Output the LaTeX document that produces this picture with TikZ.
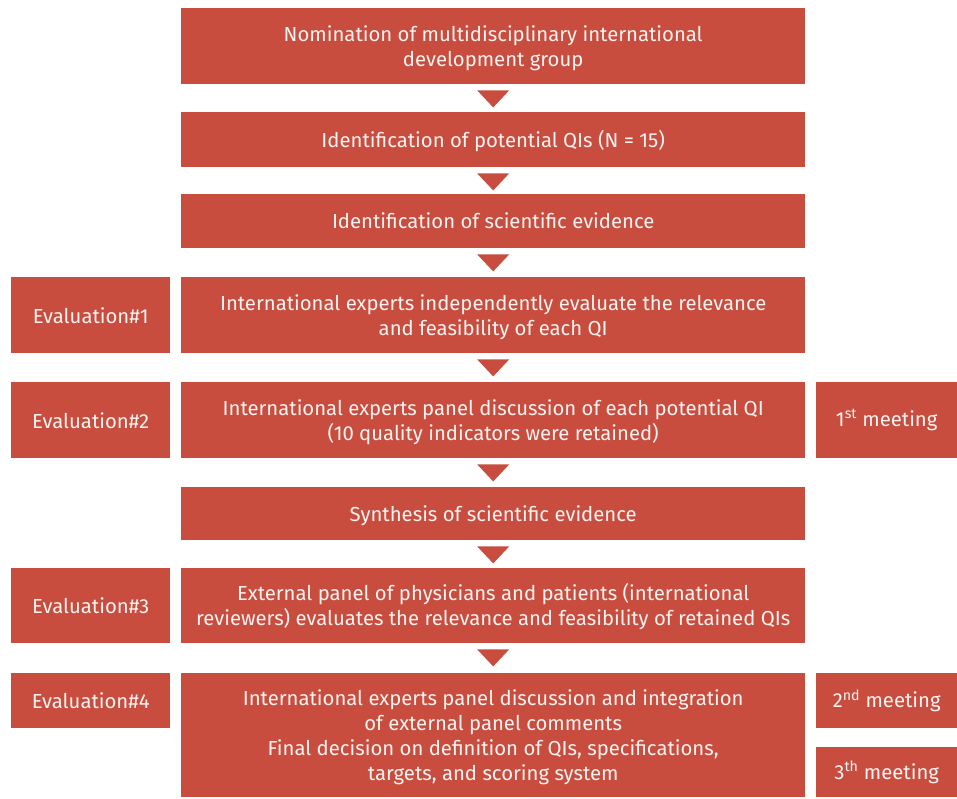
\documentclass[tikz,border=0pt]{standalone}
\usepackage{fontspec}
\setmainfont{Fira Sans}
\definecolor{boxred}{HTML}{C94D3E}
\definecolor{txt}{HTML}{FBF3F1}
\newcommand{\shtxt}[1]{\raisebox{-2.5pt}[\height][\depth]{\begin{tabular}{@{}c@{}}#1\end{tabular}}}
\begin{document}
\begin{tikzpicture}[x=1pt,y=-1pt,
  rbox/.style={fill=boxred,draw=none,inner sep=0pt,align=center,text=txt,
    font=\fontsize{20.3}{25}\selectfont},
  tri/.style={fill=boxred,draw=none}]
\useasboundingbox (0,0) rectangle (957,798);
% main boxes
\newcommand{\mainbx}[4]{% name, y1, y2, text
  \node[rbox,minimum width=624pt,minimum height={#3-#2},anchor=north west] (#1) at (181,#2) {\shtxt{#4}};}
\mainbx{b1}{8}{84}{Nomination of multidisciplinary international\\development group}
\mainbx{b2}{112}{167}{Identification of potential QIs (N = 15)}
\mainbx{b3}{194}{248}{Identification of scientific evidence}
\mainbx{b4}{277}{353}{International experts independently evaluate the relevance\\and feasibility of each QI}
\mainbx{b5}{382}{458}{International experts panel discussion of each potential QI\\(10 quality indicators were retained)}
\mainbx{b6}{487}{540}{Synthesis of scientific evidence}
\mainbx{b7}{568}{643}{External panel of physicians and patients (international\\reviewers) evaluates the relevance and feasibility of retained QIs}
\mainbx{b8}{673}{797}{International experts panel discussion and integration\\of external panel comments\\Final decision on definition of QIs, specifications,\\targets, and scoring system}
% side boxes
\newcommand{\leftbx}[4]{\node[rbox,minimum width=159pt,minimum height={#3-#2},anchor=north west] (#1) at (11,#2) {#4};}
\newcommand{\rightbx}[4]{\node[rbox,minimum width=141pt,minimum height={#3-#2},anchor=north west] (#1) at (816,#2) {#4};}
\leftbx{e1}{277}{353}{Evaluation\#1}
\leftbx{e2}{382}{458}{Evaluation\#2}
\leftbx{e3}{568}{643}{Evaluation\#3}
\leftbx{e4}{673}{728}{Evaluation\#4}
\rightbx{m1}{382}{458}{1\textsuperscript{st} meeting}
\rightbx{m2}{673}{728}{2\textsuperscript{nd} meeting}
\rightbx{m3}{747}{797}{3\textsuperscript{th} meeting}
% arrows
\foreach \a in {b1,b2,b3,b4,b5,b6,b7}{
  \fill[tri] (\a.south) ++(-16,6) -- ++(32,0) -- ++(-16,17) -- cycle;
}
\end{tikzpicture}
\end{document}
